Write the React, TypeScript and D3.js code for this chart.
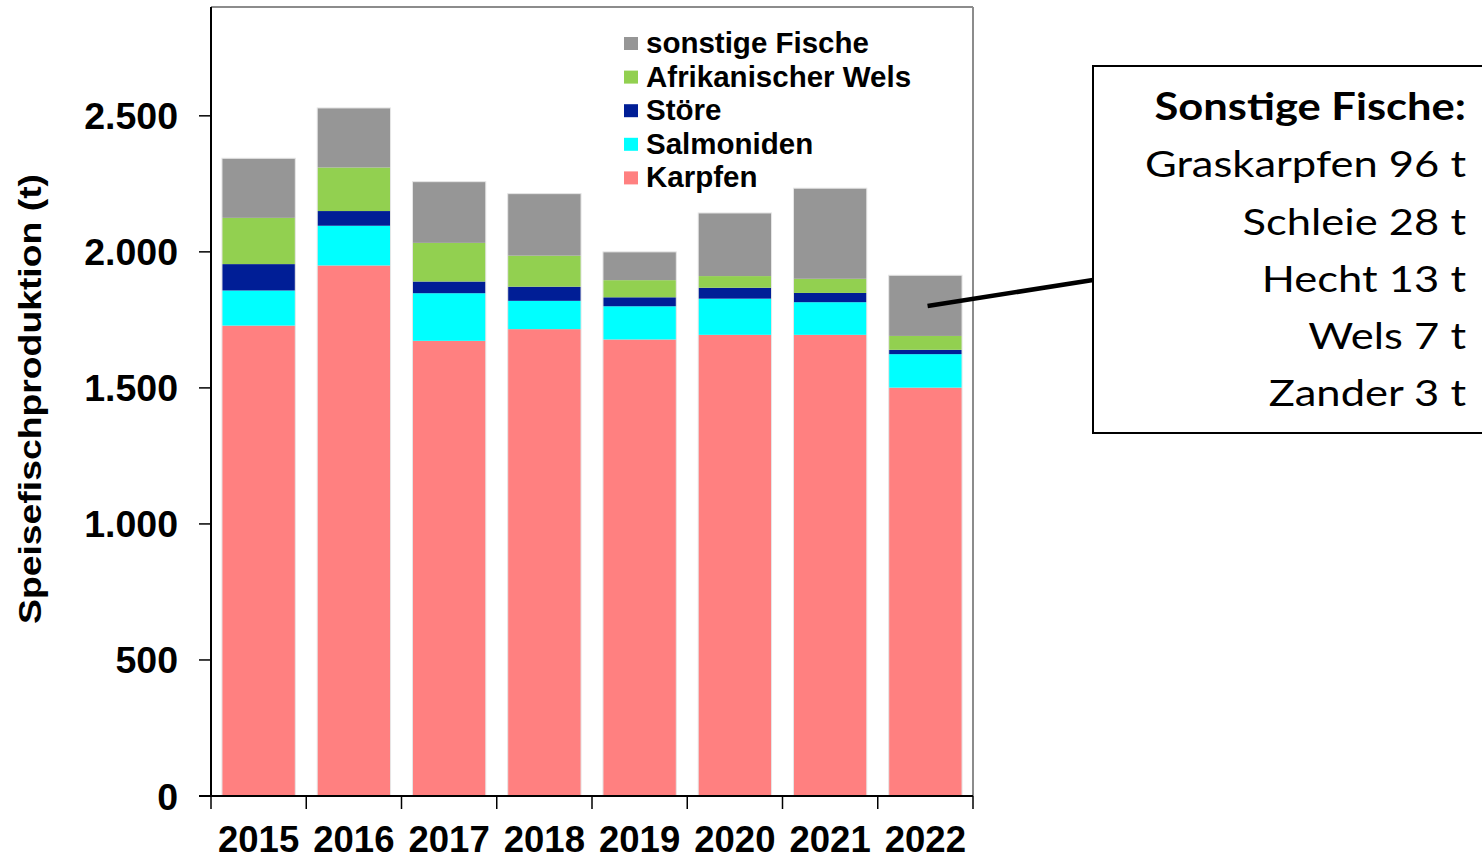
import React from "react";
import * as d3 from "d3";

const years = ["2015", "2016", "2017", "2018", "2019", "2020", "2021", "2022"];
const karpfen = [1729, 1950, 1673, 1716, 1678, 1695, 1695, 1501];
const salmoniden = [129, 146, 175, 104, 122, 133, 120, 123];
const stoere = [97, 54, 43, 52, 33, 40, 34, 16];
const afrWels = [170, 160, 142, 114, 63, 43, 52, 51];
const sonstige = [219, 219, 225, 228, 104, 232, 333, 223];

const seriesKeys = ["karpfen", "salmoniden", "stoere", "wels", "sonstige"];
const seriesNames = ["Karpfen", "Salmoniden", "Störe", "Afrikanischer Wels", "sonstige Fische"];
const seriesColors = ["#FF8080", "#00FFFF", "#001E96", "#92D050", "#969696"];

const yTicks = [0, 500, 1000, 1500, 2000, 2500];
const yMax = 2900;

const noteTitle = "Sonstige Fische:";
const noteLines = ["Graskarpfen 96 t", "Schleie 28 t", "Hecht 13 t", "Wels 7 t", "Zander 3 t"];
const noteYear = "2022";
const noteValueAt = 1801; // point inside the "sonstige" segment the leader line points to

const W = 1482;
const H = 856;
const M = { left: 211, right: 973, top: 7, bottom: 796 };

export default function App() {
  const rows = years.map((y, i) => ({
    year: y,
    karpfen: karpfen[i],
    salmoniden: salmoniden[i],
    stoere: stoere[i],
    wels: afrWels[i],
    sonstige: sonstige[i],
  }));
  const stacked = d3.stack<any>().keys(seriesKeys)(rows);

  const x = d3
    .scaleBand<string>()
    .domain(years)
    .range([M.left, M.right])
    .paddingInner(0.23)
    .paddingOuter(0.115);
  const y = d3.scaleLinear().domain([0, yMax]).range([M.bottom, M.top]);

  const de = d3.formatLocale({ decimal: ",", thousands: ".", grouping: [3], currency: ["", " €"] });
  const fmt = de.format(",d");

  const step = x.step();
  const boundaries = years.map((yr) => (x(yr) as number) - x.paddingOuter() * step).concat([M.right]);

  const legendX = 624;
  const legendTop = 53;
  const legendStep = 33.6;
  const legendOrder = [4, 3, 2, 1, 0];

  const noteRight = 1466;
  const noteBaseline0 = 120;
  const noteStep = 57.3;
  const noteStretch = 1.16;

  const px = (x(noteYear) as number) + x.bandwidth() * 0.53;
  const py = y(noteValueAt);

  return (
    <svg
      width={W}
      height={H}
      style={{ position: "absolute", left: 0, top: 0, background: "#fff" }}
      fontFamily="'Liberation Sans', Arial, sans-serif"
    >
      <rect x={0} y={0} width={W} height={H} fill="#fff" />
      {/* plot frame top/right */}
      <line x1={M.left} x2={M.right} y1={M.top} y2={M.top} stroke="#8c8c8c" strokeWidth={2} />
      <line x1={M.right} x2={M.right} y1={M.top} y2={M.bottom} stroke="#8c8c8c" strokeWidth={2} />

      {/* bars */}
      {stacked.map((s, si) => (
        <g key={s.key} fill={seriesColors[si]}>
          {s.map((d, i) => (
            <rect
              key={i}
              x={x(years[i])}
              width={x.bandwidth()}
              y={y(d[1])}
              height={y(d[0]) - y(d[1])}
            />
          ))}
        </g>
      ))}
      {years.map((yr, i) => (
        <rect
          key={yr}
          x={x(yr)}
          width={x.bandwidth()}
          y={y(stacked[stacked.length - 1][i][1])}
          height={M.bottom - y(stacked[stacked.length - 1][i][1])}
          fill="none"
          stroke="#e6e6e6"
          strokeWidth={1}
        />
      ))}

      {/* axes */}
      <line x1={M.left} x2={M.left} y1={M.top} y2={M.bottom} stroke="#000" strokeWidth={2} />
      <line x1={M.left - 12} x2={M.right} y1={M.bottom} y2={M.bottom} stroke="#000" strokeWidth={2} />
      {yTicks.map((t) => (
        <g key={t}>
          <line x1={M.left - 12} x2={M.left} y1={y(t)} y2={y(t)} stroke="#000" strokeWidth={1.5} />
          <text
            x={178}
            y={y(t)}
            dy="0.36em"
            textAnchor="end"
            fontSize={37.5}
            fontWeight="bold"
            fill="#000"
          >
            {fmt(t)}
          </text>
        </g>
      ))}
      {boundaries.map((bx, i) => (
        <line key={i} x1={bx} x2={bx} y1={M.bottom} y2={M.bottom + 13} stroke="#000" strokeWidth={1.5} />
      ))}
      {years.map((yr) => (
        <text
          key={yr}
          x={(x(yr) as number) + x.bandwidth() / 2}
          y={852}
          textAnchor="middle"
          fontSize={36.5}
          fontWeight="bold"
          fill="#000"
        >
          {yr}
        </text>
      ))}

      {/* y label */}
      <text
        transform={`translate(41,399) rotate(-90)`}
        textAnchor="middle"
        fontSize={32}
        fontWeight="bold"
        fill="#000"
        textLength={450}
        lengthAdjust="spacingAndGlyphs"
      >
        Speisefischproduktion (t)
      </text>

      {/* legend */}
      {legendOrder.map((si, r) => (
        <g key={si}>
          <rect
            x={legendX}
            y={legendTop + r * legendStep - 16}
            width={14}
            height={13}
            fill={seriesColors[si]}
          />
          <text
            x={legendX + 22}
            y={legendTop + r * legendStep}
            fontSize={29.5}
            fontWeight="bold"
            fill="#000"
          >
            {seriesNames[si]}
          </text>
        </g>
      ))}

      {/* annotation */}
      <line x1={px} y1={py} x2={1093} y2={280} stroke="#000" strokeWidth={4.5} />
      <rect x={1093} y={66} width={420} height={367} fill="#fff" stroke="#000" strokeWidth={2} />
      <g
        fontFamily="Lato, 'Open Sans', sans-serif"
        fill="#000"
        textAnchor="end"
        transform={`translate(${noteRight},0) scale(${noteStretch},1) translate(${-noteRight},0)`}
      >
        <text x={noteRight} y={noteBaseline0} fontSize={37.5} fontWeight="bold">
          {noteTitle}
        </text>
        {noteLines.map((l, i) => (
          <text key={l} x={noteRight} y={noteBaseline0 + (i + 1) * noteStep} fontSize={37.5}>
            {l}
          </text>
        ))}
      </g>
    </svg>
  );
}
